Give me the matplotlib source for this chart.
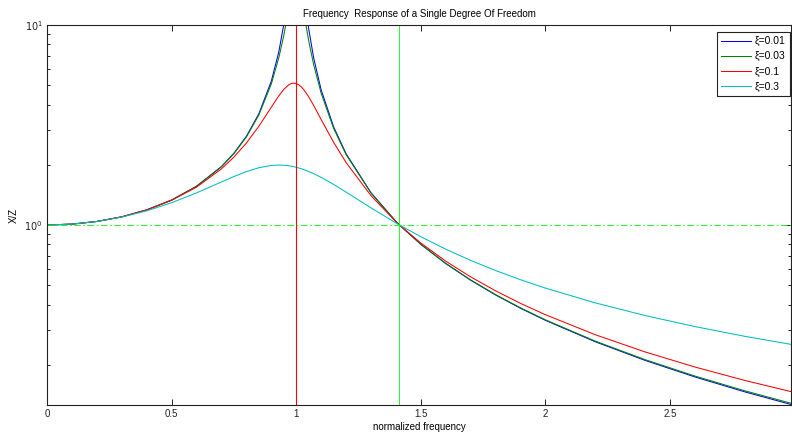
import matplotlib
matplotlib.use("Agg")
import matplotlib.pyplot as plt
from matplotlib.ticker import FixedLocator, LogLocator, NullFormatter

plt.rcParams['font.family'] = ['Liberation Sans', 'DejaVu Sans']

# normalized frequency
r = [0, 0.1, 0.2, 0.3, 0.4, 0.5, 0.6, 0.7, 0.75, 0.8, 0.85, 0.9, 0.93, 0.95,
     0.97, 0.98, 0.99, 1.0, 1.01, 1.02, 1.03, 1.05, 1.07, 1.1, 1.15, 1.2, 1.3,
     1.4, 1.4142, 1.5, 1.6, 1.7, 1.8, 1.9, 2.0, 2.2, 2.4, 2.6, 2.8, 3.0]

xz_001 = [1.0, 1.0101, 1.04167, 1.0989, 1.19048, 1.33328, 1.56234, 1.96024, 2.28463,
          2.77539, 3.59739, 5.24055, 7.334, 10.0688, 16.08, 22.636, 35.629, 50.01,
          35.099, 22.1, 15.558, 9.5599, 6.8288, 4.73713, 3.09366, 2.27001, 1.44874,
          1.04163, 1.0, 0.80013, 0.64122, 0.52932, 0.44666, 0.38338, 0.33357,
          0.26065, 0.21032, 0.17384, 0.14642, 0.12522]
xz_003 = [1.0, 1.0101, 1.04166, 1.09886, 1.19034, 1.33287, 1.56105, 1.95589, 2.27602,
          2.75658, 3.5489, 5.07003, 6.8519, 8.8687, 12.076, 14.13, 15.991, 16.697,
          15.691, 13.662, 11.547, 8.3283, 6.3227, 4.55271, 3.03929, 2.24871, 1.44448,
          1.04135, 1.0, 0.80116, 0.64276, 0.53107, 0.4485, 0.38526, 0.33546,
          0.26252, 0.21215, 0.17565, 0.1482, 0.12698]
xz_01 = [1.0, 1.0101, 1.0416, 1.09849, 1.1889, 1.32823, 1.54675, 1.90928, 2.18633,
         2.57065, 3.11692, 3.88226, 4.42456, 4.76638, 5.02284, 5.09614, 5.12274, 5.09902,
         5.02567, 4.90761, 4.75295, 4.3727, 3.95695, 3.36661, 2.59049, 2.05188, 1.40128,
         1.03846, 1.0, 0.81216, 0.65932, 0.55002, 0.46847, 0.4056, 0.35586,
         0.28266, 0.23186, 0.19489, 0.167, 0.14537]
xz_03 = [1.0, 1.01006, 1.04104, 1.09534, 1.17717, 1.29248, 1.4474, 1.64167, 1.74721,
         1.84872, 1.93339, 1.9853, 1.9946, 1.99046, 1.97786, 1.96844, 1.95701, 1.94365,
         1.92846, 1.91155, 1.89302, 1.85168, 1.80559, 1.72994, 1.59517, 1.46034, 1.21782,
         1.02381, 1.0, 0.87345, 0.75679, 0.6651, 0.59188, 0.53244, 0.48344,
         0.40783, 0.35254, 0.31051, 0.27758, 0.25111]

series = [(xz_001, 'ξ=0.01', '#0000ff'),
          (xz_003, 'ξ=0.03', '#008000'),
          (xz_01, 'ξ=0.1', '#ff0000'),
          (xz_03, 'ξ=0.3', '#00bfbf')]

x_ticks = [0, 0.5, 1, 1.5, 2, 2.5]
x_tick_labels = ['0', '0.5', '1', '1.5', '2', '2.5']
resonance = 1.0
crossover = 1.4142

fig = plt.figure(figsize=(7.92, 4.36), dpi=100)
ax = fig.add_axes([47/792, 1 - 405/436, 744/792, 380/436])

for ys, lab, col in series:
    ax.plot(r, ys, color=col, lw=0.75, label=lab)

ax.axvline(resonance, color='#ff0000', lw=0.8)
ax.axvline(crossover, color='#00ff00', lw=0.6)
ax.axhline(1.0, color='#00ff00', lw=0.6, ls='-.', dashes=(8, 3, 2, 3))

ax.set_yscale('log')
ax.set_xlim(0, 2.985)
ax.set_ylim(0.1259, 10)

ax.xaxis.set_major_locator(FixedLocator(x_ticks))
ax.set_xticklabels(x_tick_labels)
ax.yaxis.set_major_locator(FixedLocator([1, 10]))
ax.yaxis.set_minor_locator(LogLocator(base=10, subs=range(2, 10)))
ax.yaxis.set_minor_formatter(NullFormatter())
ax.set_yticklabels(['$10^0$', '$10^1$'])

ax.tick_params(which='both', direction='in', top=True, right=True,
               labelsize=7, colors='#222222', width=0.7)
ax.tick_params(which='major', length=4, pad=3)
ax.tick_params(which='minor', length=2.5)
for s in ax.spines.values():
    s.set_linewidth(0.8)
    s.set_color('#222222')

ax.set_title('Frequency  Response of a Single Degree Of Freedom', fontsize=7, pad=6)
ax.set_xlabel('normalized frequency', fontsize=7, labelpad=2)
ax.set_ylabel('X/Z', fontsize=7, labelpad=4)

leg = ax.legend(loc='upper right', bbox_to_anchor=(0.9987, 0.9816),
                fontsize=7.5, fancybox=False, framealpha=1,
                edgecolor='#222222', handlelength=2.9, handletextpad=0.35,
                borderpad=0.4, labelspacing=0.5, borderaxespad=0.0)
leg.get_frame().set_linewidth(0.8)

fig.savefig('out.png', dpi=100)
